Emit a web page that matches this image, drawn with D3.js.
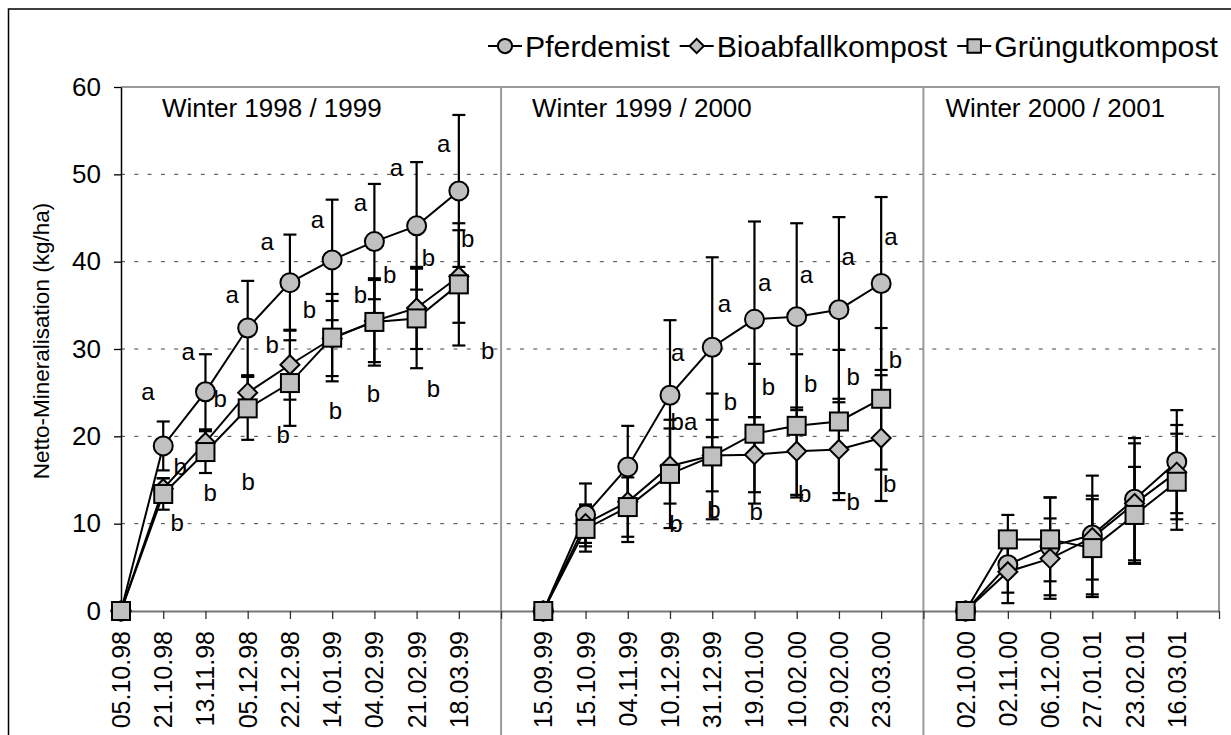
<!DOCTYPE html>
<html><head><meta charset="utf-8">
<script src="https://cdn.jsdelivr.net/npm/d3@7"></script>
<style>
body{margin:0;background:#fff;}
svg{display:block;}
text{font-family:"Liberation Sans",Arial,sans-serif;fill:#000;}
</style></head>
<body><svg id="c" width="1231" height="735"></svg>
<script>
// ---- data ----
const dates = ["05.10.98","21.10.98","13.11.98","05.12.98","22.12.98","14.01.99","04.02.99","21.02.99","18.03.99","",
  "15.09.99","15.10.99","04.11.99","10.12.99","31.12.99","19.01.00","10.02.00","29.02.00","23.03.00","",
  "02.10.00","02.11.00","06.12.00","27.01.01","23.02.01","16.03.01",""];
const seriesNames = ["Pferdemist","Bioabfallkompost","Grüngutkompost"];
const pferdemist    = [0,18.9,25.1,32.4,37.6,40.2,42.3,44.1,48.1,null, 0,11.0,16.5,24.7,30.2,33.4,33.7,34.5,37.5,null, 0,5.3,7.4,8.7,12.8,17.1,null];
const pferdemistErr = [0,2.8,4.3,5.4,5.5,6.9,6.6,7.3,8.7,null, 0,3.6,4.7,8.6,10.3,11.2,10.7,10.6,9.9,null, 0,3.2,5.6,6.8,7.0,5.9,null];
const bioabfall     = [0,14.0,19.3,25.0,28.2,31.2,33.2,34.7,38.3,null, 0,10.0,12.5,16.6,17.8,17.9,18.3,18.5,19.8,null, 0,4.5,6.0,8.4,12.3,15.9,null];
const bioabfallErr  = [0,1.2,1.3,1.9,4.0,4.3,4.7,4.7,5.3,null, 0,2.2,4.6,4.3,4.1,4.3,5.0,5.8,7.2,null, 0,3.6,4.6,4.8,6.9,5.4,null];
const gruengut      = [0,13.4,18.2,23.2,26.1,31.3,33.1,33.5,37.4,null, 0,9.4,11.9,15.7,17.7,20.3,21.2,21.7,24.3,null, 0,8.2,8.2,7.2,11.0,14.8,null];
const gruengutErr   = [0,1.8,2.4,3.6,4.9,5.0,5.0,5.7,7.0,null, 0,2.6,3.4,6.2,7.2,8.0,8.2,8.2,8.1,null, 0,2.8,4.8,5.6,5.5,5.5,null];
const yTicks = [0,10,20,30,40,50,60];
const separators = [9,19];
const panelTitles = [["Winter 1998 / 1999",0],["Winter 1999 / 2000",9],["Winter 2000 / 2001",19]];
// significance letters: [category position, value, text]
const letters = [
 [0.64,25.2,"a"],[1.59,29.7,"a"],[2.63,36.2,"a"],[3.46,42.3,"a"],[4.65,44.8,"a"],[5.67,46.8,"a"],[6.52,50.8,"a"],[7.64,53.6,"a"],
 [2.35,24.3,"b"],[1.40,16.6,"b"],[1.33,10.1,"b"],[2.11,13.6,"b"],[3.01,14.8,"b"],[3.84,20.2,"b"],[5.08,23.0,"b"],[5.98,24.9,"b"],
 [7.40,25.5,"b"],[3.58,30.5,"b"],[4.46,34.5,"b"],[5.67,36.2,"b"],[6.36,38.5,"b"],[7.28,40.5,"b"],[8.21,42.7,"b"],[8.68,29.9,"b"],
 [13.18,29.6,"a"],[13.33,21.7,"ba"],[13.14,10.0,"b"],
 [14.29,35.2,"a"],[14.43,24.0,"b"],[14.04,11.6,"b"],
 [15.24,37.6,"a"],[15.33,25.7,"b"],[15.04,11.4,"b"],
 [16.23,38.6,"a"],[16.33,26.1,"b"],[16.19,13.5,"b"],
 [17.22,40.6,"a"],[17.34,26.9,"b"],[17.34,12.5,"b"],
 [18.23,42.9,"a"],[18.34,28.8,"b"],[18.20,14.6,"b"]
];

// ---- layout ----
const svg = d3.select("#c");
const X0=121, X1=1219, Y0=611, Y1=87;
const x = d3.scaleLinear().domain([0,dates.length-1]).range([X0,X1]);
const y = d3.scaleLinear().domain([0,60]).range([Y0,Y1]);

// outer border (top/left visible)
svg.append("path").attr("d","M8.5,735V9H1231").attr("fill","none").attr("stroke","#000").attr("stroke-width",1.5);

// gridlines
svg.append("g").selectAll("line").data(yTicks.filter(d=>d>0&&d<60)).join("line")
  .attr("x1",X0).attr("x2",X1).attr("y1",d=>y(d)).attr("y2",d=>y(d))
  .attr("stroke","#444").attr("stroke-width",1).attr("stroke-dasharray","4,9.3");
// plot border (top/right)
svg.append("path").attr("d",`M${X0},${Y1}H${X1}V${Y0}`).attr("fill","none").attr("stroke","#999").attr("stroke-width",2);
// separators
svg.append("g").selectAll("line").data(separators).join("line")
  .attr("x1",d=>x(d)).attr("x2",d=>x(d)).attr("y1",Y1).attr("y2",735)
  .attr("stroke","#999").attr("stroke-width",2);

// x axis
const xa = svg.append("g").attr("transform",`translate(0,${Y0})`)
  .call(d3.axisBottom(x).tickValues(d3.range(dates.length)).tickSize(8).tickSizeOuter(0).tickFormat(""));
xa.select(".domain").attr("stroke","#777").attr("stroke-width",2);
xa.selectAll(".tick line").attr("stroke","#333").attr("stroke-width",1.3);
svg.append("g").selectAll("text").data(dates.map((d,i)=>[d,i]).filter(d=>d[0])).join("text")
  .attr("transform",d=>`translate(${x(d[1])},631) rotate(-90)`)
  .attr("text-anchor","end").attr("dy","0.36em").attr("font-size",25).text(d=>d[0]);

// y axis
const ya = svg.append("g").attr("transform",`translate(${X0},0)`)
  .call(d3.axisLeft(y).tickValues(yTicks).tickSize(7).tickSizeOuter(0).tickPadding(13));
ya.select(".domain").attr("stroke","#000").attr("stroke-width",1.5);
ya.selectAll(".tick line").attr("stroke","#000").attr("stroke-width",1.3);
ya.selectAll(".tick text").attr("font-size",26).attr("font-family","Liberation Sans, Arial, sans-serif").attr("fill","#000");

svg.append("text").attr("transform","translate(41,341) rotate(-90)").attr("text-anchor","middle")
  .attr("dy","0.36em").attr("font-size",22.5).text("Netto-Mineralisation (kg/ha)");

// panel titles
svg.append("g").selectAll("text").data(panelTitles).join("text")
  .attr("x",(d,i)=>x(d[1])+[41,31,22][i]).attr("y",117).attr("font-size",26).text(d=>d[0]);

// series
const series = [
  {name:seriesNames[0], v:pferdemist, e:pferdemistErr, shape:"circle"},
  {name:seriesNames[1], v:bioabfall, e:bioabfallErr, shape:"diamond"},
  {name:seriesNames[2], v:gruengut, e:gruengutErr, shape:"square"}
];
const line = d3.line().defined(d=>d[1]!=null).x(d=>x(d[0])).y(d=>y(d[1]));
const gL = svg.append("g"), gE = svg.append("g"), gM = svg.append("g");
function marker(sel, shape, s){
  if(shape==="circle") return sel.append("circle").attr("r",9.5*s);
  if(shape==="square") return sel.append("rect").attr("x",-9*s).attr("y",-9*s).attr("width",18*s).attr("height",18*s);
  return sel.append("path").attr("d",`M0,${-9.5*s}L${9.5*s},0L0,${9.5*s}L${-9.5*s},0Z`);
}
series.forEach(s=>{
  const pts = s.v.map((v,i)=>[i,v,s.e[i]]);
  gL.append("path").datum(pts).attr("d",line).attr("fill","none").attr("stroke","#000").attr("stroke-width",2);
  const eb = gE.append("g").selectAll("g").data(pts.filter(d=>d[1]!=null && d[2]>0)).join("g");
  eb.append("line").attr("x1",d=>x(d[0])).attr("x2",d=>x(d[0])).attr("y1",d=>y(d[1]-d[2])).attr("y2",d=>y(d[1]+d[2]));
  eb.append("line").attr("x1",d=>x(d[0])-6.5).attr("x2",d=>x(d[0])+6.5).attr("y1",d=>y(d[1]+d[2])).attr("y2",d=>y(d[1]+d[2]));
  eb.append("line").attr("x1",d=>x(d[0])-6.5).attr("x2",d=>x(d[0])+6.5).attr("y1",d=>y(d[1]-d[2])).attr("y2",d=>y(d[1]-d[2]));
  eb.selectAll("line").attr("stroke","#000").attr("stroke-width",2.2);
  pts.filter(d=>d[1]!=null).forEach(d=>{
    const g = gM.append("g").attr("transform",`translate(${x(d[0])},${y(d[1])})`);
    marker(g,s.shape,1).attr("fill","#c0c0c0").attr("stroke","#000").attr("stroke-width",2);
  });
});

// letters
svg.append("g").selectAll("text").data(letters).join("text")
  .attr("x",d=>x(d[0])).attr("y",d=>y(d[1])).attr("text-anchor","middle").attr("dy","0.36em")
  .attr("font-size",24).text(d=>d[2]);

// legend: tight entries fitted between legStart and legEnd
const lg = svg.append("g");
const legStart = 488, legEnd = 1218, legY = 46, lineW = 34, txtGap = 3, entryGap = 10;
const baseFont = 30;
const items = series.map(s=>{
  const g = lg.append("g");
  g.append("line").attr("x1",0).attr("x2",lineW).attr("stroke","#000").attr("stroke-width",2);
  const m = g.append("g").attr("transform",`translate(${lineW/2},0)`);
  marker(m,s.shape,0.75).attr("fill","#c0c0c0").attr("stroke","#000").attr("stroke-width",2);
  const t = g.append("text").attr("x",lineW+txtGap).attr("dy","0.36em").attr("font-size",baseFont).text(s.name);
  return {g, t, tw: t.node().getComputedTextLength()};
});
const avail = legEnd-legStart - items.length*(lineW+txtGap) - (items.length-1)*entryGap;
const k = avail/d3.sum(items,d=>d.tw);
const legFont = baseFont*k;
let cx = legStart;
items.forEach(it=>{
  it.t.attr("font-size",legFont);
  it.g.attr("transform",`translate(${cx},${legY})`);
  cx += lineW+txtGap+it.tw*k+entryGap;
});
</script></body></html>
